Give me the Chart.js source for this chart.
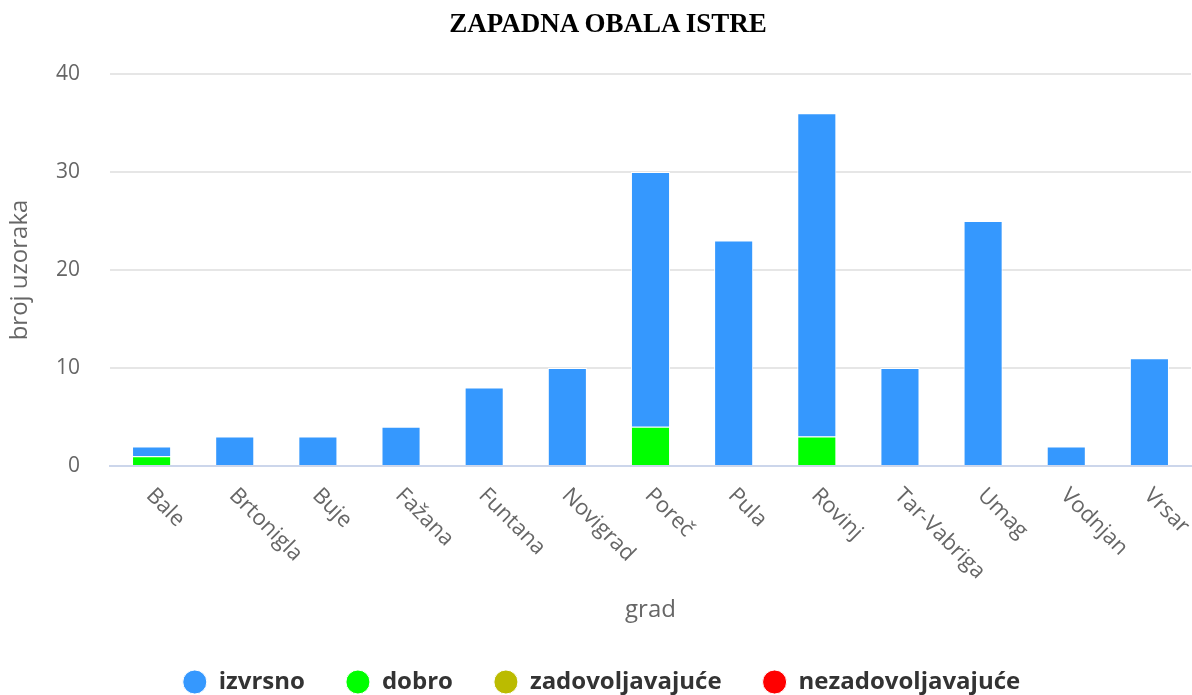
<!DOCTYPE html>
<html>
<head>
<meta charset="utf-8">
<script src="https://cdn.jsdelivr.net/npm/chart.js@4.4.0/dist/chart.umd.min.js"></script>
<style>
    html, body { margin: 0; padding: 0; background: #fff; }
    #wrap { position: relative; width: 1192px; height: 695px; }
    #chart-title { position: absolute; left: 408px; width: 400px; top: 10px; text-align: center; font: bold 27px/27px "Liberation Serif", "Times New Roman", serif; color: #000; }
</style>
</head>
<body>
<div id="wrap">
    <canvas id="sales-chart" width="1192" height="695"></canvas>
    <div id="chart-title">ZAPADNA OBALA ISTRE</div>
</div>
<script>
const gradovi = ['Bale', 'Brtonigla', 'Buje', 'Fažana', 'Funtana', 'Novigrad', 'Poreč', 'Pula', 'Rovinj', 'Tar-Vabriga', 'Umag', 'Vodnjan', 'Vrsar'];
const izvrsno = [1, 3, 3, 4, 8, 10, 26, 23, 33, 10, 25, 2, 11];
const dobro = [1, 0, 0, 0, 0, 0, 4, 0, 3, 0, 0, 0, 0];
const zadovoljavajuce = [0, 0, 0, 0, 0, 0, 0, 0, 0, 0, 0, 0, 0];
const nezadovoljavajuce = [0, 0, 0, 0, 0, 0, 0, 0, 0, 0, 0, 0, 0];
const yTicks = [0, 10, 20, 30, 40];

const FONT = '"Open Sans", "DejaVu Sans", sans-serif';

// x labels rotated clockwise, starting at the tick (Chart.js only rotates the other way)
const rotatedLabels = {
    id: 'rotatedLabels',
    afterLayout(chart) {
        // legend sits a few px right of centre in the original
        chart.legend.left += 6;
        chart.legend.right += 6;
    },
    afterDraw(chart) {
        const xs = chart.scales.x, ctx = chart.ctx;
        ctx.save();
        ctx.font = `22px ${FONT}`;
        ctx.fillStyle = '#666666';
        ctx.textAlign = 'left';
        ctx.textBaseline = 'middle';
        gradovi.forEach((g, i) => {
            ctx.save();
            ctx.translate(xs.getPixelForValue(i) - 2, xs.top + 26);
            ctx.rotate(Math.PI / 4);
            ctx.fillText(g, 0, 0);
            ctx.restore();
        });
        ctx.restore();
    }
};

function makeSet(label, data, color, order) {
    return { label, data, backgroundColor: color, borderColor: '#ffffff', borderWidth: 1, order,
        categoryPercentage: 1, barPercentage: 0.47 };
}

const ctx = document.getElementById('sales-chart').getContext('2d');
new Chart(ctx, {
    type: 'bar',
    data: {
        labels: gradovi,
        datasets: [
            makeSet('izvrsno', izvrsno, '#3598fe', 3),
            makeSet('dobro', dobro, '#00ff00', 2),
            makeSet('zadovoljavajuće', zadovoljavajuce, '#bbbb00', 1),
            makeSet('nezadovoljavajuće', nezadovoljavajuce, '#ff0000', 0)
        ]
    },
    options: {
        responsive: false,
        animation: false,
        layout: { padding: { top: 74, left: 0, right: 1, bottom: -9 } },
        plugins: {
            title: { display: false },
            tooltip: { enabled: false },
            legend: {
                position: 'bottom',
                labels: {
                    usePointStyle: true, pointStyle: 'circle', boxHeight: 17, boxWidth: 24, padding: 41,
                    color: '#333333', font: { family: FONT, size: 24, weight: 'bold' },
                    sort: (a, b) => a.datasetIndex - b.datasetIndex
                }
            }
        },
        scales: {
            x: {
                stacked: true,
                grid: { display: false },
                border: { display: true, color: '#ccd6eb', width: 2 },
                ticks: { display: false },
                title: { display: true, text: 'grad', color: '#666666', font: { family: FONT, size: 24 }, padding: { top: 0, bottom: 4 } },
                afterFit: s => { s.height = 163; }
            },
            y: {
                stacked: true,
                min: 0, max: 40,
                afterBuildTicks: s => { s.ticks = yTicks.map(v => ({ value: v })); },
                grid: { color: c => c.tick && c.tick.value === 0 ? '#ccd6eb' : '#e6e6e6', lineWidth: 2, drawTicks: false },
                border: { display: false },
                ticks: { color: '#666666', font: { family: FONT, size: 21 }, padding: 30 },
                title: { display: true, text: 'broj uzoraka', color: '#666666', font: { family: FONT, size: 24 }, padding: { top: 6, bottom: 0 } },
                afterFit: s => { s.width = 110; }
            }
        }
    },
    plugins: [rotatedLabels]
});
</script>
</body>
</html>
